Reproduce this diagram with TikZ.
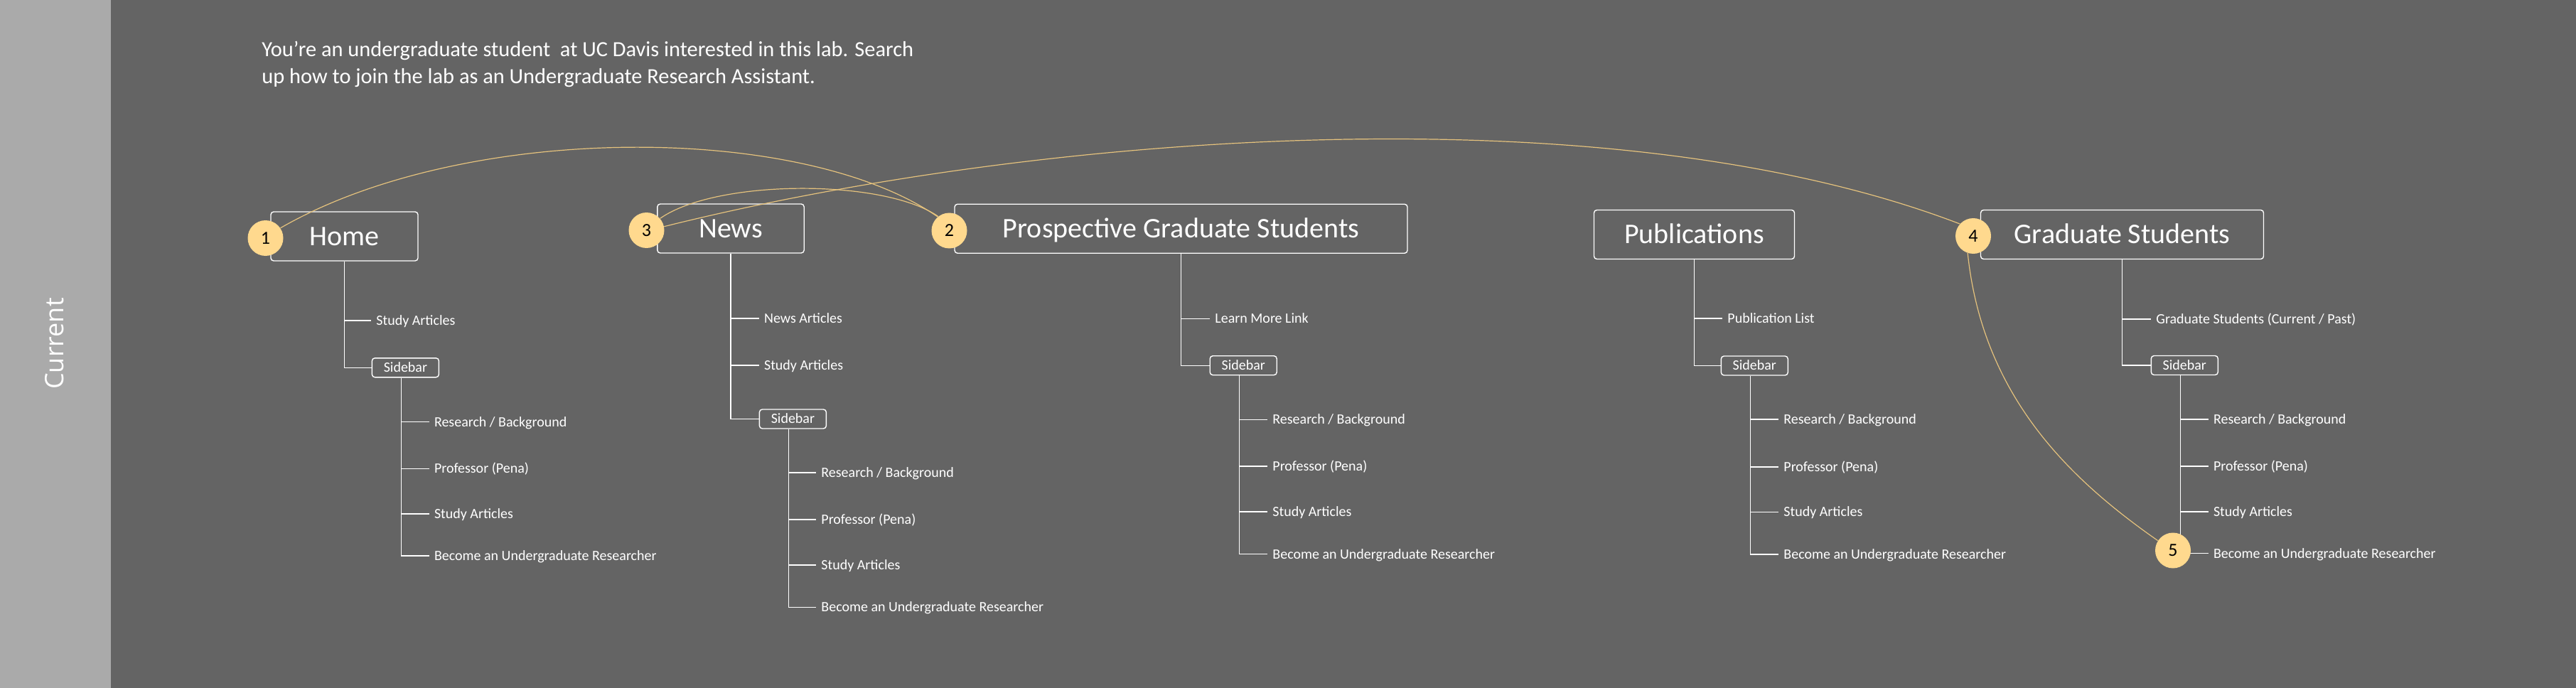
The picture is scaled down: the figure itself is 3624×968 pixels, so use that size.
\documentclass[tikz,border=0pt]{standalone}
\usepackage{fontspec}
\setmainfont{Carlito}
\newfontfamily\curfont{Open Sans}
\definecolor{bgc}{HTML}{646464}
\definecolor{bandc}{HTML}{AAAAAA}
\definecolor{circc}{HTML}{FFD98E}
\definecolor{curvec}{HTML}{E6C37D}
\begin{document}
\begin{tikzpicture}[x=0.5pt,y=-0.5pt,
  head/.style={draw=white, line width=0.7pt, rounded corners=2pt, text=white,
    font=\fontsize{20}{24}\selectfont, minimum height=34.5pt, inner sep=0pt,
    text height=12.9pt, text depth=0pt},
  sidebox/.style={draw=white, line width=0.7pt, rounded corners=2pt, text=white,
    font=\fontsize{10}{12}\selectfont, minimum width=47pt, minimum height=13.5pt,
    inner sep=0pt, text height=6.44pt, text depth=0pt},
  item/.style={anchor=west, text=white, font=\fontsize{10}{12}\selectfont,
    inner xsep=3.5pt, inner ysep=0pt, text height=6.44pt, text depth=0pt},
  link/.style={draw=white, line width=0.7pt},
  num/.style={circle, fill=circc, minimum size=25pt, inner sep=0pt,
    font=\fontsize{13}{15}\selectfont, text=black},
  route/.style={draw=curvec, line width=0.6pt}]
\fill[bgc] (0,0) rectangle (3624,968);
\fill[bandc] (0,0) rectangle (156,968);
\useasboundingbox (0,0) rectangle (3624,968);

\node[rotate=90, text=white, font=\curfont\fontsize{18}{20}\selectfont] (cur) at (77,483.5) {Current};

\node[anchor=north west, inner sep=0pt, align=left, text=white,
  font=\fontsize{15.2}{19}\selectfont] (title) at (368,58)
  {You’re an undergraduate student\ \ at UC Davis interested in this lab. Search\\
   up how to join the lab as an Undergraduate Research Assistant.};

% main boxes
\node[head, minimum width=103.5pt] (home) at (484.5,332.5) {Home};
\node[head, minimum width=103.2pt] (news) at (1028,321.5) {News};
\node[head, minimum width=318.5pt] (pgs) at (1661.5,321.75) {Prospective Graduate Students};
\node[head, minimum width=141pt] (pub) at (2383.5,330) {Publications};
\node[head, minimum width=199pt] (gs) at (2985.5,330) {Graduate Students};

% sidebars
\node[sidebox] (hsb) at (570.4,517.3) {Sidebar};
\node[sidebox] (nsb) at (1115.4,589.5) {Sidebar};
\node[sidebox] (psb) at (1749.2,514.2) {Sidebar};
\node[sidebox] (bsb) at (2468.3,514.5) {Sidebar};
\node[sidebox] (gsb) at (3073.3,514) {Sidebar};

% Home items
\node[item] (h1) at (522,451) {Study Articles};
\node[item] (h2) at (603.6,593.6) {Research / Background};
\node[item] (h3) at (603.6,659.5) {Professor (Pena)};
\node[item] (h4) at (603.6,723) {Study Articles};
\node[item] (h5) at (603.6,782) {Become an Undergraduate Researcher};
% News items
\node[item] (n1) at (1067.7,448) {News Articles};
\node[item] (n2) at (1067.7,514) {Study Articles};
\node[item] (n3) at (1148,665) {Research / Background};
\node[item] (n4) at (1148,731) {Professor (Pena)};
\node[item] (n5) at (1148,795) {Study Articles};
\node[item] (n6) at (1148,854.5) {Become an Undergraduate Researcher};
% PGS items
\node[item] (p1) at (1702,448.5) {Learn More Link};
\node[item] (p2) at (1783,590.4) {Research / Background};
\node[item] (p3) at (1783,656) {Professor (Pena)};
\node[item] (p4) at (1783,720) {Study Articles};
\node[item] (p5) at (1783,779.6) {Become an Undergraduate Researcher};
% Publications items
\node[item] (b1) at (2423,448) {Publication List};
\node[item] (b2) at (2502,590) {Research / Background};
\node[item] (b3) at (2502,657) {Professor (Pena)};
\node[item] (b4) at (2502,720.5) {Study Articles};
\node[item] (b5) at (2502,780) {Become an Undergraduate Researcher};
% Graduate Students items
\node[item] (g1) at (3026,449) {Graduate Students (Current / Past)};
\node[item] (g2) at (3106.6,590) {Research / Background};
\node[item] (g3) at (3106.6,655.8) {Professor (Pena)};
\node[item] (g4) at (3106.6,720) {Study Articles};
\node[item] (g5) at (3106.6,778.6) {Become an Undergraduate Researcher};

% tree lines
\draw[link] (home.south) |- (hsb.west);
\draw[link] (home.south |- h1.west) -- (h1.west);
\draw[link] (news.south) |- (nsb.west);
\draw[link] (news.south |- n1.west) -- (n1.west);
\draw[link] (news.south |- n2.west) -- (n2.west);
\draw[link] (pgs.south) |- (psb.west);
\draw[link] (pgs.south |- p1.west) -- (p1.west);
\draw[link] (pub.south) |- (bsb.west);
\draw[link] (pub.south |- b1.west) -- (b1.west);
\draw[link] (gs.south) |- (gsb.west);
\draw[link] (gs.south |- g1.west) -- (g1.west);

\coordinate (hst) at ([xshift=-3pt]hsb.south);
\draw[link] (hst) |- (h5.west);
\foreach \i in {2,3,4} \draw[link] (hst |- h\i.west) -- (h\i.west);
\coordinate (nst) at ([xshift=-3pt]nsb.south);
\draw[link] (nst) |- (n6.west);
\foreach \i in {3,4,5} \draw[link] (nst |- n\i.west) -- (n\i.west);
\coordinate (pst) at ([xshift=-3pt]psb.south);
\draw[link] (pst) |- (p5.west);
\foreach \i in {2,3,4} \draw[link] (pst |- p\i.west) -- (p\i.west);
\coordinate (bst) at ([xshift=-3pt]bsb.south);
\draw[link] (bst) |- (b5.west);
\foreach \i in {2,3,4} \draw[link] (bst |- b\i.west) -- (b\i.west);
\coordinate (gst) at ([xshift=-2.8pt]gsb.south);
\draw[link] (gst) |- (g5.west);
\foreach \i in {2,3,4} \draw[link] (gst |- g\i.west) -- (g\i.west);

% numbered circles
\node[num] (c1) at (373.5,335) {1};
\node[num] (c2) at (1335.5,324.5) {2};
\node[num] (c3) at (909.5,324) {3};
\node[num] (c4) at (2776,332) {4};
\node[num] (c5) at (3057,774.5) {5};

% routes
\draw[route] (c1.34) .. controls (653,172) and (1127,172) .. (c2.130);
\draw[route] (c3.41) .. controls (1007.6,252) and (1242.4,251) .. (c2.128);
\draw[route] (c3.12) .. controls (1439,192.7) and (2252.6,121.7) .. (c4.138);
\draw[route] (c4.252) .. controls (2789,556) and (2910,673) .. (c5.147);
\end{tikzpicture}
\end{document}
